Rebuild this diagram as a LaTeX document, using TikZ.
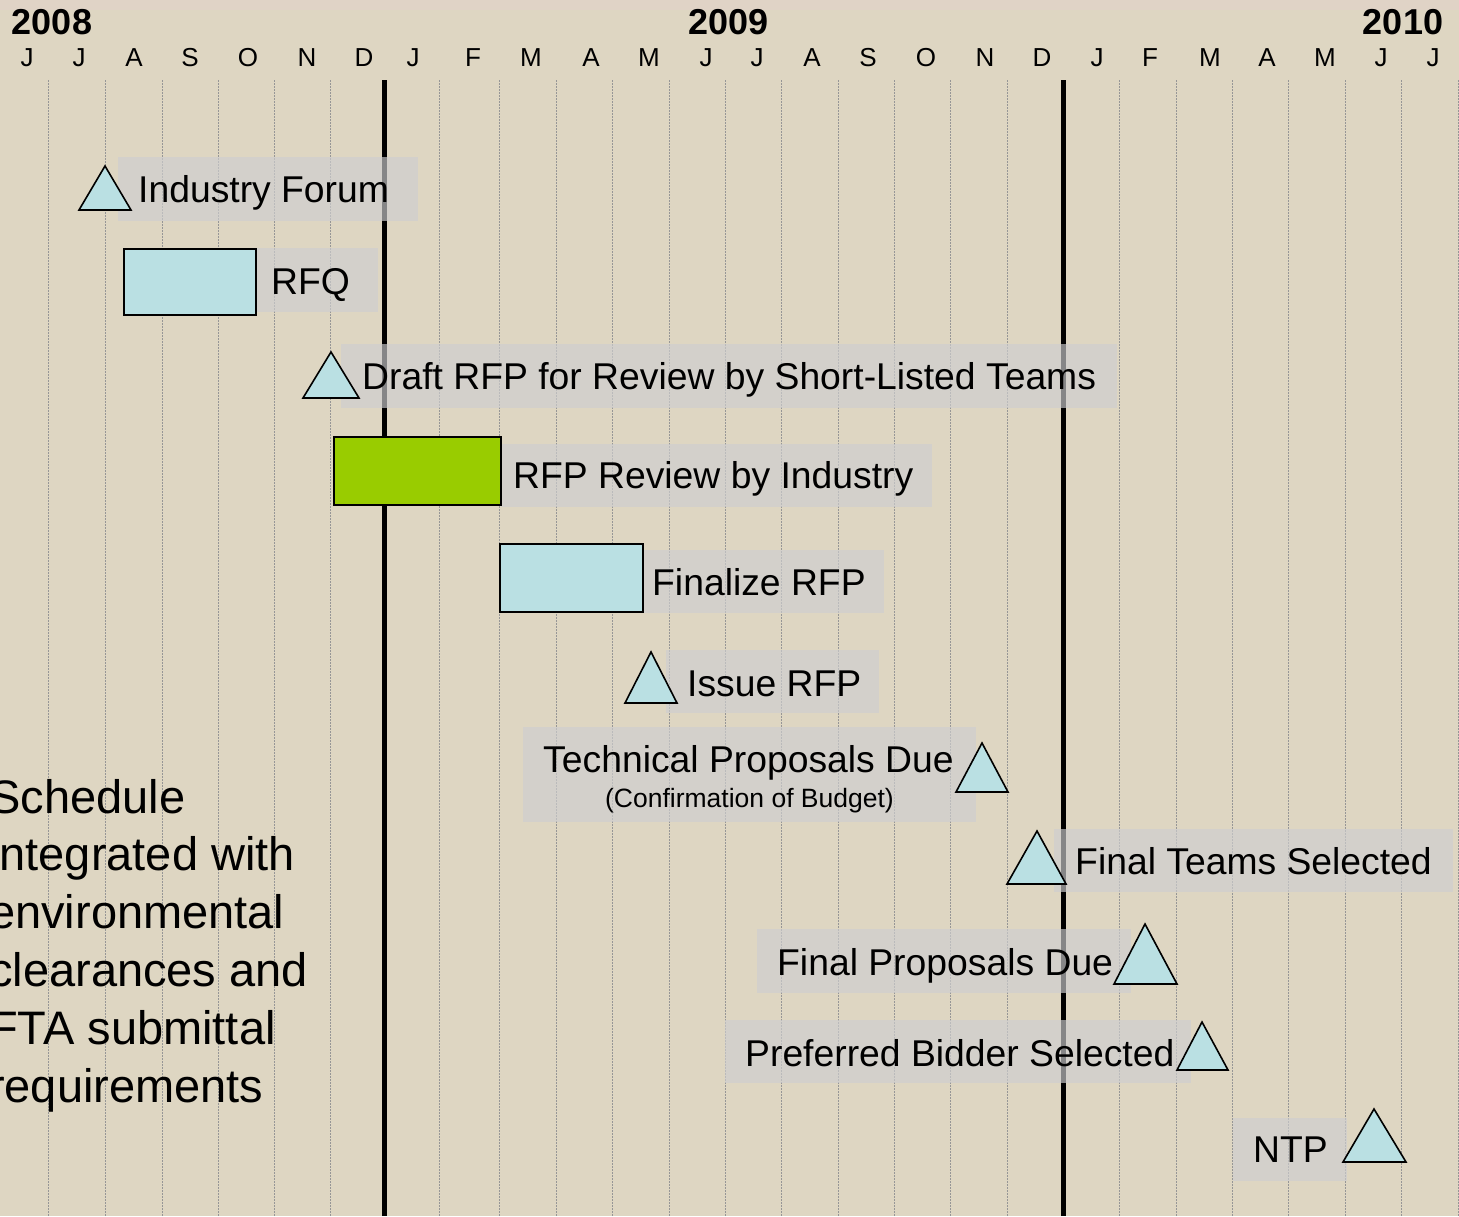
\documentclass[tikz,border=0pt]{standalone}
\usepackage{fontspec}
\setmainfont{Liberation Sans}
\definecolor{bgcol}{RGB}{222,214,194}
\definecolor{topcol}{RGB}{224,211,198}
\definecolor{boxcol}{RGB}{206,206,208}
\definecolor{blueish}{RGB}{186,224,227}
\definecolor{greenbar}{RGB}{153,204,0}
\definecolor{gridcol}{RGB}{150,150,150}
\newcommand\lblfont{\fontsize{37.3}{44}\selectfont}
\newcommand\monfont{\fontsize{26}{30}\selectfont}
\newcommand\subfont{\fontsize{26.5}{30}\selectfont}
\newcommand\yrfont{\fontsize{36}{40}\selectfont\bfseries}
\newcommand\sidefont{\fontsize{47}{57.8}\selectfont}
\begin{document}
\begin{tikzpicture}[x=1pt,y=-1pt,
  gridline/.style={draw=gridcol,line width=1pt,dash pattern=on 1.5pt off 1.5pt},
  yearline/.style={draw=black,line width=5pt},
  lblbox/.style={fill=boxcol,fill opacity=0.65},
  tri/.style={draw=black,fill=blueish,line width=1.6pt,line join=miter},
  bar/.style={draw=black,line width=1.8pt},
  lbl/.style={anchor=base west,inner sep=0pt,font=\lblfont},
  mon/.style={anchor=base,inner sep=0pt,font=\monfont},
  yr/.style={anchor=base,inner sep=0pt,font=\yrfont}]
\useasboundingbox (0,0) rectangle (1459,1216);
\fill[bgcol] (0,0) rectangle (1459,1216);
\fill[topcol] (0,0) rectangle (1459,10);
% grid
\foreach \gx in {48,105,162,218,274,330,439,499,556,612,669,725,781,838,894,950,1007,1119,1176,1232,1288,1345,1401,1458}
  \draw[gridline] (\gx,80) -- (\gx,1216);
\draw[yearline] (384,80) -- (384,1216);
\draw[yearline] (1063,80) -- (1063,1216);
% years
\node[yr] (y2008) at (52,34) {2008};
\node[yr] (y2009) at (728.5,34) {2009};
\node[yr] (y2010) at (1403,34) {2010};
% months
\foreach \mx/\ml [count=\mi] in {27/J,79/J,134/A,190/S,248/O,307/N,364/D,413/J,473/F,531/M,591/A,649/M,706/J,757/J,812/A,868/S,926/O,985/N,1042/D,1097/J,1150/F,1210/M,1267/A,1325/M,1381/J,1433/J}
  \node[mon] (mon\mi) at (\mx,66) {\ml};
% label boxes
\fill[lblbox] (118,157) rectangle (418,221);
\fill[lblbox] (256,248) rectangle (378,312);
\fill[lblbox] (341,344) rectangle (1117,408);
\fill[lblbox] (501,444) rectangle (932,507);
\fill[lblbox] (644,550) rectangle (884,613);
\fill[lblbox] (666,650) rectangle (879,713);
\fill[lblbox] (523,727) rectangle (976,822);
\fill[lblbox] (1054,829) rectangle (1453,892);
\fill[lblbox] (757,929) rectangle (1131,993);
\fill[lblbox] (725,1020) rectangle (1191,1083);
\fill[lblbox] (1233,1118) rectangle (1347,1181);
% bars
\draw[bar,fill=blueish] (124,249) rectangle (256,315);
\draw[bar,fill=greenbar] (334,437) rectangle (501,505);
\draw[bar,fill=blueish] (500,544) rectangle (643,612);
% milestones
\draw[tri] (79,210) -- (105,166) -- (131,210) -- cycle;
\draw[tri] (303,398) -- (331,352) -- (359,398) -- cycle;
\draw[tri] (625,703) -- (651,652) -- (677,703) -- cycle;
\draw[tri] (956,792) -- (982,743) -- (1008,792) -- cycle;
\draw[tri] (1007,884) -- (1037,831) -- (1066,884) -- cycle;
\draw[tri] (1114,984) -- (1145,924) -- (1177,984) -- cycle;
\draw[tri] (1177,1070) -- (1202,1022) -- (1228,1070) -- cycle;
\draw[tri] (1343,1162) -- (1374,1109) -- (1406,1162) -- cycle;
% labels
\node[lbl] (tIF) at (138,202) {Industry Forum};
\node[lbl] (tRFQ) at (271,294) {RFQ};
\node[lbl] (tDraft) at (362,389) {Draft RFP for Review by Short-Listed Teams};
\node[lbl] (tRev) at (513,488) {RFP Review by Industry};
\node[lbl] (tFin) at (652,595) {Finalize RFP};
\node[lbl] (tIss) at (687,696) {Issue RFP};
\node[lbl] (tTech) at (543,772) {Technical Proposals Due};
\node[anchor=base,inner sep=0pt,font=\subfont] (tConf) at (749.5,807) {(Confirmation of Budget)};
\node[lbl] (tTeams) at (1075,874) {Final Teams Selected};
\node[lbl] (tFPD) at (777,975) {Final Proposals Due};
\node[lbl] (tPref) at (745,1066) {Preferred Bidder Selected};
\node[lbl] (tNTP) at (1253,1162) {NTP};
% side text
\node[anchor=base west,inner sep=0pt,font=\sidefont,align=left] (side) at (-11,1102)
  {Schedule\\integrated with\\environmental\\clearances and\\FTA submittal\\requirements};
\end{tikzpicture}
\end{document}
